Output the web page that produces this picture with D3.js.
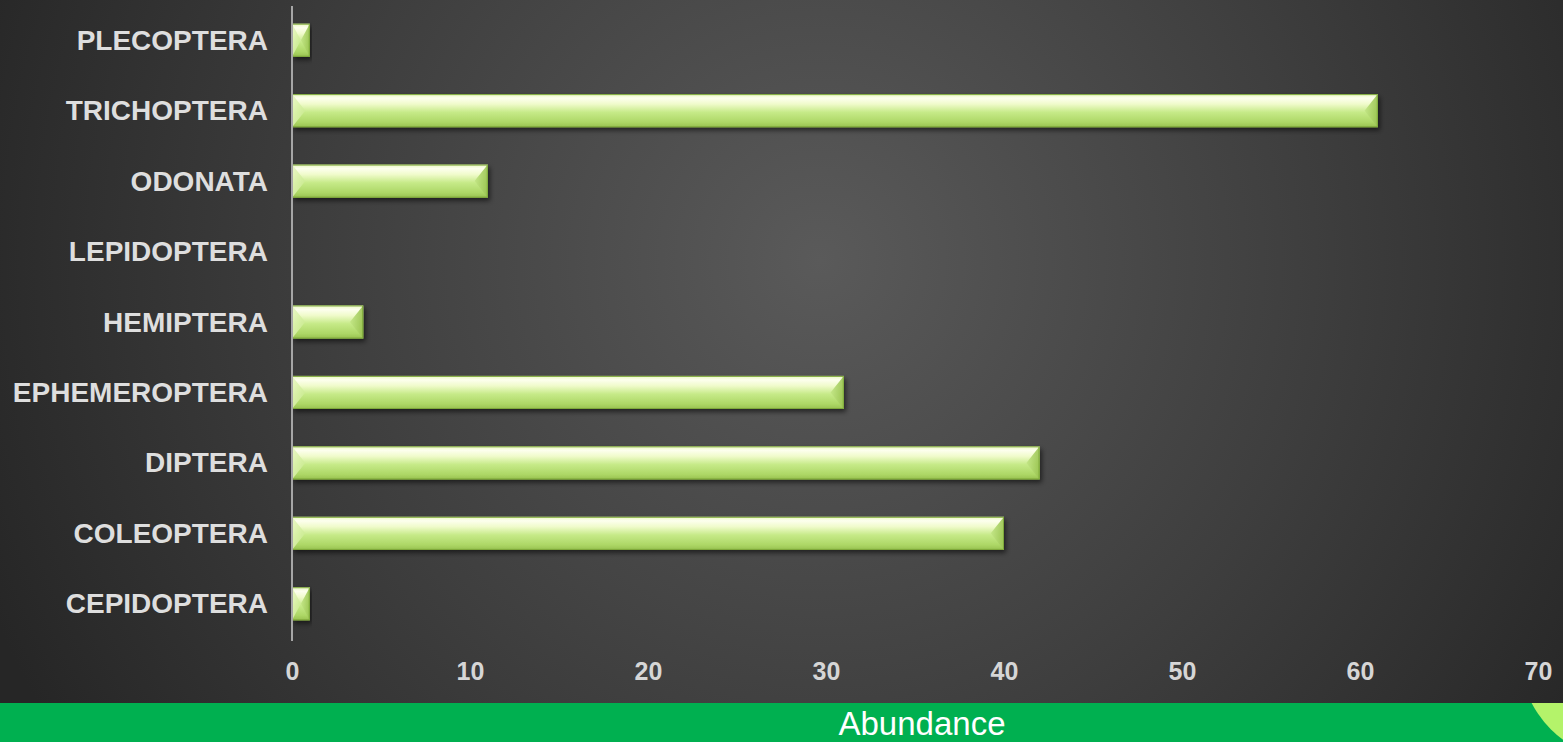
<!DOCTYPE html>
<html>
<head>
<meta charset="utf-8">
<script src="https://cdn.jsdelivr.net/npm/d3@7"></script>
<style>
  html, body { margin: 0; padding: 0; background: #2b2b2b; overflow: hidden; }
  svg { display: block; }
</style>
</head>
<body>
<svg id="chart" width="1563" height="742"></svg>
<script>
// Insect order abundance
const categories = ["PLECOPTERA", "TRICHOPTERA", "ODONATA", "LEPIDOPTERA", "HEMIPTERA",
                    "EPHEMEROPTERA", "DIPTERA", "COLEOPTERA", "CEPIDOPTERA"];
const abundance = [1, 61, 11, 0, 4, 31, 42, 40, 1];
const xTicks = [0, 10, 20, 30, 40, 50, 60, 70];
const axisTitle = "Abundance";

const W = 1563, H = 742;
const FONT = "'Liberation Sans', Arial, sans-serif";
const svg = d3.select("#chart");
const defs = svg.append("defs");

// background: soft radial glow on dark grey
const bg = defs.append("radialGradient").attr("id", "bg")
  .attr("gradientUnits", "userSpaceOnUse")
  .attr("cx", 820).attr("cy", 260).attr("r", 900);
bg.append("stop").attr("offset", "0").attr("stop-color", "#5a5a5a");
bg.append("stop").attr("offset", "0.55").attr("stop-color", "#3e3e3e");
bg.append("stop").attr("offset", "1").attr("stop-color", "#262626");
svg.append("rect").attr("width", W).attr("height", H).attr("fill", "url(#bg)");

// bar face gradient (bevelled look)
const bf = defs.append("linearGradient").attr("id", "barFace")
  .attr("x1", 0).attr("y1", 0).attr("x2", 0).attr("y2", 1);
[["0", "#eaf7c2"], ["0.12", "#fdffee"], ["0.3", "#f0fbcb"], ["0.55", "#c6ea88"], ["0.85", "#add766"], ["1", "#98c150"]]
  .forEach(([o, c]) => bf.append("stop").attr("offset", o).attr("stop-color", c));
const bl = defs.append("linearGradient").attr("id", "bevelL")
  .attr("x1", 0).attr("y1", 0).attr("x2", 1).attr("y2", 0);
bl.append("stop").attr("offset", "0").attr("stop-color", "#e3f5b8");
bl.append("stop").attr("offset", "1").attr("stop-color", "#cdec96");
const br = defs.append("linearGradient").attr("id", "bevelR")
  .attr("x1", 0).attr("y1", 0).attr("x2", 1).attr("y2", 0);
br.append("stop").attr("offset", "0").attr("stop-color", "#c2e585");
br.append("stop").attr("offset", "1").attr("stop-color", "#98c24f");

const shadow = defs.append("filter").attr("id", "shadow")
  .attr("x", "-5%").attr("y", "-30%").attr("width", "115%").attr("height", "180%");
shadow.append("feDropShadow").attr("dx", 2).attr("dy", 3).attr("stdDeviation", 2.5)
  .attr("flood-color", "#000").attr("flood-opacity", 0.55);

const margin = { left: 292, right: 25, top: 5, bottom: 103 };
const x = d3.scaleLinear().domain([0, 70]).range([margin.left, W - margin.right]);
const y = d3.scaleBand().domain(categories).range([margin.top, H - margin.bottom]).paddingInner(0.53).paddingOuter(0.265);

// category labels
svg.append("g").selectAll("text").data(categories).join("text")
  .attr("x", margin.left - 24)
  .attr("y", d => y(d) + y.bandwidth() / 2)
  .attr("dy", "0.34em")
  .attr("text-anchor", "end")
  .attr("font-family", FONT)
  .attr("font-weight", "bold")
  .attr("font-size", 28)
  .attr("fill", "#dedede")
  .text(d => d);

// x tick labels
const xAxis = d3.axisBottom(x).tickValues(xTicks).tickSize(0).tickPadding(0);
const gx = svg.append("g").attr("transform", `translate(0, 662)`).call(xAxis);
gx.select(".domain").remove();
gx.selectAll("text")
  .attr("dy", "0.72em")
  .attr("font-family", FONT)
  .attr("font-weight", "bold")
  .attr("font-size", 25)
  .attr("fill", "#d6d6d6");

// bars
const data = categories.map((c, i) => ({ c, v: abundance[i] }));
const bars = svg.append("g").selectAll("g").data(data.filter(d => d.v > 0)).join("g")
  .attr("filter", "url(#shadow)");
bars.each(function (d) {
  const g = d3.select(this);
  const x0 = x(0), x1 = x(d.v), y0 = y(d.c), h = y.bandwidth();
  const w = x1 - x0;
  const bv = Math.min(h * 0.4, w / 2);
  const ym = y0 + h / 2;
  g.append("rect").attr("x", x0).attr("y", y0).attr("width", w).attr("height", h)
    .attr("fill", "url(#barFace)");
  // end bevels
  g.append("path").attr("d", `M${x0},${y0}L${x0 + bv},${ym}L${x0},${y0 + h}Z`)
    .attr("fill", "url(#bevelL)").attr("opacity", 0.8);
  g.append("path").attr("d", `M${x1},${y0}L${x1 - bv},${ym}L${x1},${y0 + h}Z`)
    .attr("fill", "url(#bevelR)").attr("opacity", 0.9);
  g.append("rect").attr("x", x0 + 0.5).attr("y", y0 + 0.5).attr("width", w - 1).attr("height", h - 1)
    .attr("fill", "none").attr("stroke", "#7ea83a").attr("stroke-width", 1);
});

// value axis line
svg.append("line")
  .attr("x1", x(0)).attr("x2", x(0))
  .attr("y1", margin.top + 1).attr("y2", H - margin.bottom + 2)
  .attr("stroke", "#a6a6a6").attr("stroke-width", 2);

// bottom title strip
svg.append("rect").attr("x", 0).attr("y", 703).attr("width", W).attr("height", H - 703)
  .attr("fill", "#00b050");
svg.append("defs").append("clipPath").attr("id", "strip")
  .append("rect").attr("x", 0).attr("y", 703).attr("width", W).attr("height", H - 703);
svg.append("circle").attr("cx", 1625).attr("cy", 655).attr("r", 105)
  .attr("fill", "#b4f36a").attr("clip-path", "url(#strip)");
svg.append("text")
  .attr("x", 922).attr("y", 735)
  .attr("text-anchor", "middle")
  .attr("font-family", FONT)
  .attr("font-size", 33)
  .attr("fill", "#ffffff")
  .text(axisTitle);
</script>
</body>
</html>
